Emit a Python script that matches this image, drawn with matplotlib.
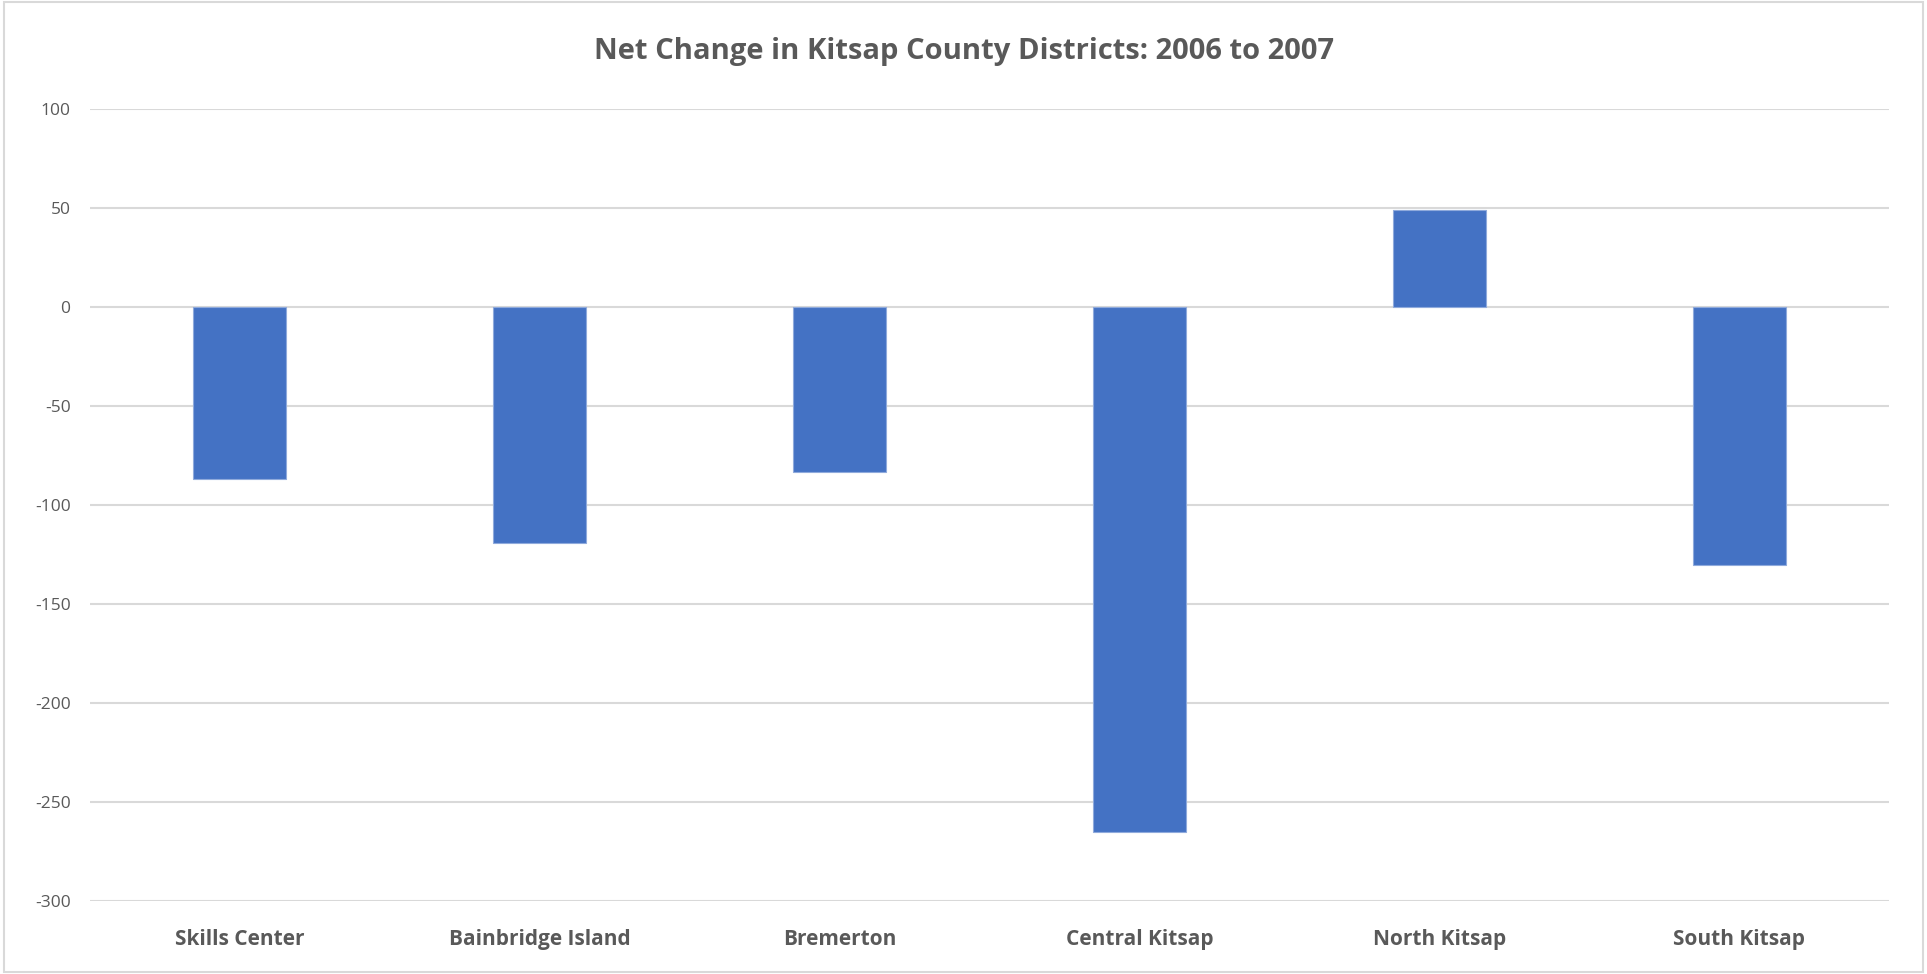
import matplotlib.pyplot as plt
from matplotlib.patches import Rectangle

# Data
districts = ["Skills Center", "Bainbridge Island", "Bremerton",
             "Central Kitsap", "North Kitsap", "South Kitsap"]
net_change = [-87, -119, -83, -265, 49, -130]
y_ticks = [100, 50, 0, -50, -100, -150, -200, -250, -300]

plt.rcParams['font.family'] = ['Open Sans', 'DejaVu Sans']

fig = plt.figure(figsize=(19.27, 9.74), dpi=100)
ax = fig.add_axes([0.0467, 0.075, 0.9336, 0.8127])

# Light frame around the whole chart
fig.patches.append(Rectangle((0.002, 0.002), 0.996, 0.996, transform=fig.transFigure,
                             fill=False, edgecolor='#D9D9D9', linewidth=1.5))

x = range(len(districts))
ax.bar(x, net_change, width=0.31, color='#4472C4', edgecolor='#8FAADC',
       linewidth=0.8, zorder=3)

ax.set_ylim(-300, 100)
ax.set_xlim(-0.5, len(districts) - 0.5)
ax.set_yticks(y_ticks)
ax.set_yticklabels([str(t) for t in y_ticks], color='#595959', fontsize=12.5)
ax.yaxis.grid(True, color='#D9D9D9', linewidth=1.5, zorder=0)
ax.set_xticks(list(x))
ax.set_xticklabels(districts, fontsize=15, fontweight='bold', color='#595959')
ax.tick_params(axis='both', length=0)
ax.tick_params(axis='x', pad=20)
ax.tick_params(axis='y', pad=14)

for side in ['top', 'right', 'left', 'bottom']:
    ax.spines[side].set_visible(False)

fig.text(0.5, 0.947, "Net Change in Kitsap County Districts: 2006 to 2007",
         ha='center', va='center', fontsize=21, fontweight='bold', color='#595959')

plt.savefig("out.png", dpi=100)
plt.close()
